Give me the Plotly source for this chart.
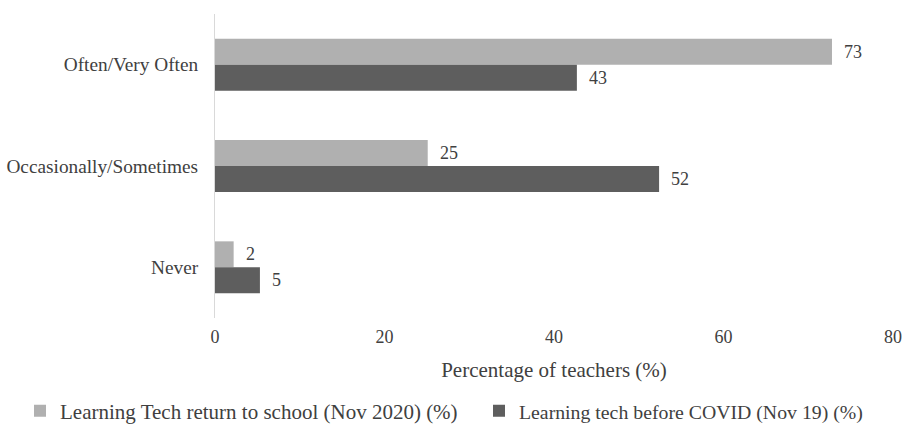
import plotly.graph_objects as go

categories = ["Often/Very Often", "Occasionally/Sometimes", "Never"]
series_names = ["Learning Tech return to school (Nov 2020) (%)",
                "Learning tech before COVID (Nov 19) (%)"]
return_2020 = [72.8, 25.1, 2.2]
before_covid = [42.7, 52.4, 5.3]
return_labels = ["73", "25", "2"]
before_labels = ["43", "52", "5"]
x_ticks = [0, 20, 40, 60, 80]

FONT = "Liberation Serif, Times New Roman, serif"
LIGHT = "#b0b0b0"
DARK = "#5e5e5e"
TXT = "#404040"

fig = go.Figure()
fig.add_trace(go.Bar(y=categories, x=return_2020, orientation="h", name=series_names[0],
                     marker=dict(color=LIGHT, line=dict(width=0)), offsetgroup="a",
                     legend="legend"))
fig.add_trace(go.Bar(y=categories, x=before_covid, orientation="h", name=series_names[1],
                     marker=dict(color=DARK, line=dict(width=0)), offsetgroup="b",
                     legend="legend2"))

annots = []
for vals, labs, sh in [(return_2020, return_labels, 13), (before_covid, before_labels, -13)]:
    for c, v, l in zip(categories, vals, labs):
        annots.append(dict(x=v, y=c, text=l, showarrow=False, xanchor="left", yanchor="middle",
                           xshift=10, yshift=sh, font=dict(family=FONT, size=18, color=TXT)))

leg_common = dict(orientation="h", xanchor="left", xref="container",
                  y=0.042, yanchor="middle", yref="container",
                  itemwidth=30, bgcolor="rgba(0,0,0,0)")

fig.update_layout(
    width=907, height=429,
    margin=dict(l=215, r=14, t=14, b=111, autoexpand=False),
    paper_bgcolor="white", plot_bgcolor="white",
    barmode="group", bargap=0.487, bargroupgap=0,
    font=dict(family=FONT, size=18, color=TXT),
    showlegend=True,
    legend=dict(x=20 / 907, font=dict(family=FONT, size=21, color=TXT), **leg_common),
    legend2=dict(x=479 / 907, font=dict(family=FONT, size=19.8, color=TXT), **leg_common),
    annotations=annots,
    xaxis=dict(range=[0, 80], tickvals=x_ticks, showgrid=False, zeroline=False, showline=False,
               ticks="", ticklabelstandoff=6, tickfont=dict(family=FONT, size=18, color=TXT),
               title=dict(text="Percentage of teachers (%)", font=dict(family=FONT, size=21, color=TXT),
                          standoff=16)),
    yaxis=dict(autorange="reversed", showgrid=False, zeroline=False, showline=True,
               linecolor="#d9d9d9", linewidth=1, ticks="", ticklabelstandoff=12,
               tickfont=dict(family=FONT, size=19.3, color=TXT)),
)

fig.write_html("out.html")
